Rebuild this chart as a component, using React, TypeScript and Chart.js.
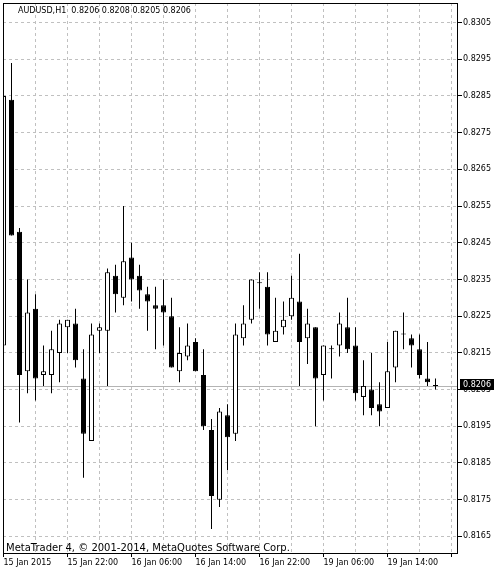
import { useEffect, useRef } from 'react';
import { Chart, registerables } from 'chart.js';

Chart.register(...registerables);

// AUDUSD H1 bars, oldest first
const opens = [
  0.8217, 0.8284, 0.8248, 0.8210, 0.8227, 0.8209, 0.8209, 0.8215, 0.8222, 0.8223,
  0.8208, 0.8191, 0.8221, 0.8221, 0.8236, 0.8230, 0.8241, 0.8236, 0.8231, 0.8228,
  0.8228, 0.8225, 0.8210, 0.8214, 0.8218, 0.8209, 0.8194, 0.8175, 0.8198, 0.8193,
  0.8219, 0.8224, 0.8234, 0.8233, 0.8218, 0.8222, 0.8225, 0.8229, 0.8219, 0.8222,
  0.8209, 0.8216, 0.8217, 0.8222, 0.8217, 0.8203, 0.8205, 0.8201, 0.8200, 0.8211,
  0.8220, 0.8219, 0.8216, 0.8208, 0.8206,
];
const highs = [
  0.8286, 0.8294, 0.8249, 0.8235, 0.8231, 0.8217, 0.8221, 0.8224, 0.8224, 0.8227,
  0.8216, 0.8223, 0.8223, 0.8238, 0.8239, 0.8255, 0.8245, 0.8239, 0.8233, 0.8233,
  0.8235, 0.8230, 0.8222, 0.8223, 0.8219, 0.8216, 0.8197, 0.8200, 0.8201, 0.8223,
  0.8228, 0.8235, 0.8237, 0.8237, 0.8230, 0.8229, 0.8236, 0.8242, 0.8227, 0.8222,
  0.8217, 0.8217, 0.8226, 0.8230, 0.8222, 0.8213, 0.8215, 0.8207, 0.8218, 0.8221,
  0.8226, 0.8220, 0.8220, 0.8218, 0.8208,
];
const lows = [
  0.8208, 0.8247, 0.8196, 0.8204, 0.8202, 0.8206, 0.8204, 0.8207, 0.8215, 0.8211,
  0.8181, 0.8191, 0.8215, 0.8206, 0.8226, 0.8228, 0.8229, 0.8227, 0.8221, 0.8216,
  0.8217, 0.8211, 0.8207, 0.8213, 0.8210, 0.8194, 0.8167, 0.8173, 0.8183, 0.8191,
  0.8217, 0.8223, 0.8227, 0.8217, 0.8218, 0.8220, 0.8224, 0.8206, 0.8212, 0.8195,
  0.8202, 0.8208, 0.8214, 0.8215, 0.8202, 0.8198, 0.8198, 0.8195, 0.8200, 0.8207,
  0.8216, 0.8211, 0.8208, 0.8206, 0.8205,
];
const closes = [
  0.8285, 0.8247, 0.8209, 0.8226, 0.8208, 0.8210, 0.8216, 0.8223, 0.8224, 0.8213,
  0.8193, 0.8220, 0.8222, 0.8237, 0.8231, 0.8240, 0.8235, 0.8232, 0.8229, 0.8227,
  0.8226, 0.8211, 0.8215, 0.8217, 0.8210, 0.8195, 0.8176, 0.8199, 0.8192, 0.8220,
  0.8223, 0.8235, 0.8234, 0.8220, 0.8221, 0.8224, 0.8230, 0.8218, 0.8223, 0.8208,
  0.8217, 0.8216, 0.8223, 0.8216, 0.8204, 0.8206, 0.8200, 0.8199, 0.8210, 0.8221,
  0.8220, 0.8217, 0.8209, 0.8207, 0.8206,
];

// one label every 8 bars, grid every 4 bars
const timeLabels = [
  '15 Jan 2015', '15 Jan 22:00', '16 Jan 06:00', '16 Jan 14:00',
  '16 Jan 22:00', '19 Jan 06:00', '19 Jan 14:00',
];
const priceTicks = [
  0.8165, 0.8175, 0.8185, 0.8195, 0.8205, 0.8215, 0.8225, 0.8235,
  0.8245, 0.8255, 0.8265, 0.8275, 0.8285, 0.8295, 0.8305,
];

const symbol = 'AUDUSD,H1';
const lastPrice = 0.8206;
const credit = 'MetaTrader 4, \u00a9 2001-2014, MetaQuotes Software Corp.';

const BARS_PER_LABEL = 8;
const BARS_PER_GRID = 4;
const FONT = '"DejaVu Sans"';

const mtPlugin = {
  id: 'mtDecor',
  beforeDatasetsDraw(chart: Chart) {
    const { ctx, chartArea } = chart;
    const y = Math.round(chart.scales.y.getPixelForValue(lastPrice)) + 0.5;
    ctx.save();
    ctx.strokeStyle = '#b4b4b4';
    ctx.lineWidth = 1;
    ctx.beginPath();
    ctx.moveTo(chartArea.left, y);
    ctx.lineTo(chartArea.right, y);
    ctx.stroke();
    ctx.restore();
  },
  afterDraw(chart: Chart) {
    const { ctx, chartArea } = chart;
    const { left, top, right, bottom } = chartArea;
    ctx.save();
    ctx.strokeStyle = '#000';
    ctx.lineWidth = 1;
    ctx.strokeRect(left + 0.5, top + 0.5, right - left - 1, bottom - top - 1);

    const o = opens[opens.length - 1];
    const h = highs[highs.length - 1];
    const l = lows[lows.length - 1];
    const c = closes[closes.length - 1];
    ctx.fillStyle = '#000';
    ctx.font = `8px ${FONT}`;
    ctx.textBaseline = 'alphabetic';
    ctx.textAlign = 'left';
    ctx.fillText(
      `${symbol}  ${o.toFixed(4)} ${h.toFixed(4)} ${l.toFixed(4)} ${c.toFixed(4)}`,
      left + 15,
      top + 10
    );

    ctx.font = `10px ${FONT}`;
    ctx.fillText(credit, left + 3, bottom - 3);

    // last price marker on the axis
    const py = Math.round(chart.scales.y.getPixelForValue(lastPrice));
    ctx.fillStyle = '#000';
    ctx.fillRect(right + 2, py - 7, 34, 11);
    ctx.fillStyle = '#fff';
    ctx.font = `8px ${FONT}`;
    ctx.textBaseline = 'middle';
    ctx.fillText(lastPrice.toFixed(4), right + 5, py - 1.5);
    ctx.restore();
  },
};

export default function App() {
  const canvasRef = useRef<HTMLCanvasElement>(null);
  const chartRef = useRef<Chart>();

  useEffect(() => {
    document.body.style.margin = '0';
    if (!canvasRef.current) return;
    chartRef.current?.destroy();

    const bull = opens.map((o, i) => closes[i] > o);
    const doji = opens.map((o, i) => closes[i] === o);

    chartRef.current = new Chart(canvasRef.current, {
      type: 'bar',
      data: {
        datasets: [
          {
            label: 'body',
            data: opens.map((o, i) => ({ x: i, y: [o, closes[i]] })) as any,
            backgroundColor: opens.map((_, i) => (bull[i] && !doji[i] ? '#ffffff' : '#000000')),
            borderColor: '#000000',
            borderWidth: 1,
            borderSkipped: false,
            barThickness: 5,
            minBarLength: 1,
            inflateAmount: 0,
            grouped: false,
          },
          {
            label: 'wick',
            data: lows.map((l, i) => ({ x: i, y: [l, highs[i]] })) as any,
            backgroundColor: '#000000',
            borderWidth: 0,
            barThickness: 1,
            minBarLength: 1,
            inflateAmount: 0,
            grouped: false,
          },
        ],
      },
      options: {
        responsive: false,
        animation: false,
        events: [],
        layout: { padding: { left: 3, top: 3, right: 0, bottom: 0 } },
        plugins: {
          legend: { display: false },
          tooltip: { enabled: false },
        },
        scales: {
          x: {
            type: 'linear',
            offset: false,
            min: -0.0625,
            max: 56.8125,
            grid: {
              offset: false,
              color: '#c0c0c0',
              tickLength: 3,
              tickColor: (ctx: any) =>
                ctx.tick && ctx.tick.value % BARS_PER_LABEL === 0 ? '#000' : 'rgba(0,0,0,0)',
            },
            border: { display: false, dash: [3, 3] },
            afterBuildTicks: (scale: any) => {
              const ticks = [];
              for (let v = 0; v <= scale.max; v += BARS_PER_GRID) ticks.push({ value: v });
              scale.ticks = ticks;
            },
            afterFit: (scale: any) => {
              scale.height = 18;
              scale.paddingLeft = 0;
              scale.paddingRight = 0;
            },
            ticks: {
              autoSkip: false,
              maxRotation: 0,
              minRotation: 0,
              align: 'start',
              padding: 1,
              color: '#000',
              font: { family: FONT, size: 8 },
              callback: (v: any) => {
                const n = Number(v);
                if (n % BARS_PER_LABEL !== 0) return '';
                return timeLabels[n / BARS_PER_LABEL] ?? '';
              },
            },
          },
          y: {
            type: 'linear',
            position: 'right',
            min: 0.81602,
            max: 0.831034,
            grid: {
              color: '#c0c0c0',
              tickLength: 4,
              tickColor: '#000',
            },
            border: { display: false, dash: [3, 3] },
            afterBuildTicks: (scale: any) => {
              scale.ticks = priceTicks.map((v) => ({ value: v }));
            },
            afterFit: (scale: any) => {
              scale.width = 39;
              scale.paddingTop = 0;
              scale.paddingBottom = 0;
            },
            ticks: {
              padding: 1,
              color: '#000',
              font: { family: FONT, size: 8 },
              callback: (v: any) => Number(v).toFixed(4),
            },
          },
        },
      },
      plugins: [mtPlugin],
    });

    return () => {
      chartRef.current?.destroy();
      chartRef.current = undefined;
    };
  }, []);

  return (
    <div style={{ width: 497, height: 572, background: '#fff' }}>
      <canvas ref={canvasRef} width={497} height={572} style={{ display: 'block' }} />
    </div>
  );
}
